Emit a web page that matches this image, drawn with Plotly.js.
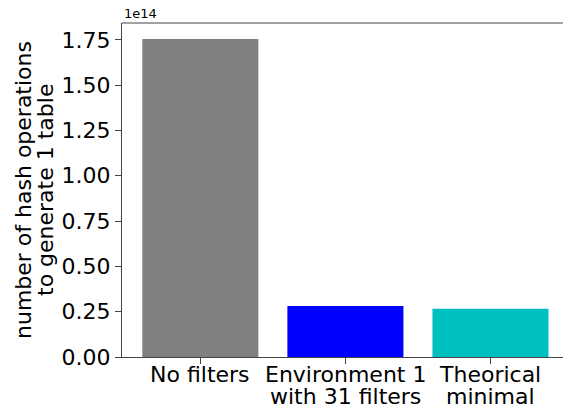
<!DOCTYPE html>
<html>
<head>
<meta charset="utf-8">
<script src="https://cdn.plot.ly/plotly-3.0.1.min.js"></script>
<style>html,body{margin:0;padding:0;background:#fff;}#chart{width:563px;height:410px;}</style>
</head>
<body>
<div id="chart"></div>
<script>
const categories = ["No filters", "Environment 1\nwith 31 filters", "Theorical\nminimal"];
const values = [1.755e14, 0.282e14, 0.266e14];
const barColors = ["#808080", "#0000ff", "#00bfbf"];
const yTickVals = [0, 0.25e14, 0.5e14, 0.75e14, 1.0e14, 1.25e14, 1.5e14, 1.75e14];
const yTickText = ["0.00", "0.25", "0.50", "0.75", "1.00", "1.25", "1.50", "1.75"];
const yTitleLines = ["number of hash operations", "to generate 1 table"];
const offsetLabel = "1e14";

const font = "DejaVu Sans, sans-serif";
const FS = 22;
const xIdx = categories.map((c, i) => i);
const trace = {
  type: "bar",
  x: xIdx,
  y: values,
  width: 0.8,
  marker: {color: barColors, line: {width: 0}},
  hoverinfo: "none"
};

const annotations = [];
categories.forEach((c, i) => {
  c.split("\n").forEach((line, j) => {
    annotations.push({
      text: line, xref: "x", yref: "paper", x: i, y: 0,
      xanchor: "center", yanchor: "middle", yshift: -17 - 22.5 * j,
      height: 21, valign: "middle", borderpad: 0,
      showarrow: false, font: {family: font, size: FS, color: "#000"}
    });
  });
});
yTitleLines.forEach((line, j) => {
  annotations.push({
    text: line, xref: "paper", yref: "paper", x: 0, y: 0.5,
    xanchor: "center", yanchor: "middle", xshift: -99 + 22 * j, textangle: -90,
    showarrow: false, font: {family: font, size: FS, color: "#000"}
  });
});
annotations.push({
  text: offsetLabel, xref: "paper", yref: "paper", x: 0, y: 1, xanchor: "left", yanchor: "bottom",
  showarrow: false, font: {family: font, size: 13, color: "#000"}, yshift: 0
});

const layout = {
  width: 563, height: 410,
  margin: {l: 122, r: 0, t: 23, b: 53},
  paper_bgcolor: "#fff", plot_bgcolor: "#fff",
  showlegend: false,
  font: {family: font, color: "#000", size: FS},
  xaxis: {
    range: [-0.54, 2.5],
    tickvals: xIdx, ticktext: xIdx.map(() => ""),
    ticks: "outside", ticklen: 6, tickwidth: 1, tickcolor: "#444",
    showline: true, linecolor: "#444", linewidth: 1, mirror: false,
    showgrid: false, zeroline: false
  },
  yaxis: {
    range: [0, 1.843e14],
    tickvals: yTickVals, ticktext: yTickText,
    ticks: "outside", ticklen: 6, tickwidth: 1, tickcolor: "#444",
    showline: true, linecolor: "#444", linewidth: 1,
    showgrid: false, zeroline: false,
    tickfont: {family: font, size: FS, color: "#000"}
  },
  shapes: [{type: "line", xref: "paper", yref: "paper", x0: 0, x1: 1, y0: 1, y1: 1, line: {color: "#444", width: 1}}],
  annotations: annotations
};
Plotly.newPlot("chart", [trace], layout, {displayModeBar: false, staticPlot: true});
</script>
</body>
</html>
